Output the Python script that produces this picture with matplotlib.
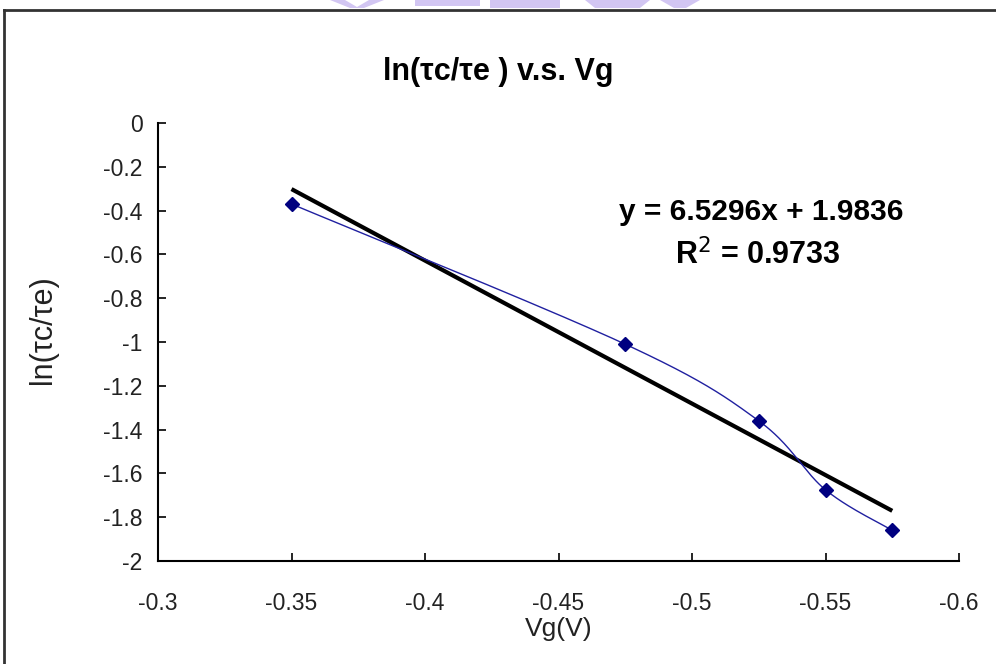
import numpy as np
import matplotlib
matplotlib.use("Agg")
import matplotlib.pyplot as plt
from matplotlib.patches import Polygon
from matplotlib.lines import Line2D

plt.rcParams['font.family'] = ['Liberation Sans', 'DejaVu Sans']

# Measured gate voltage and log ratio of the time constants
vg = [-0.35, -0.475, -0.525, -0.55, -0.575]
ln_ratio = [-0.37, -1.01, -1.36, -1.675, -1.86]

# Linear trendline coefficients
slope = 6.5296
intercept = 1.9836
r_squared = 0.9733

x_ticks = [-0.3, -0.35, -0.4, -0.45, -0.5, -0.55, -0.6]
x_tick_labels = ["-0.3", "-0.35", "-0.4", "-0.45", "-0.5", "-0.55", "-0.6"]
y_ticks = [0, -0.2, -0.4, -0.6, -0.8, -1, -1.2, -1.4, -1.6, -1.8, -2]
y_tick_labels = ["0", "-0.2", "-0.4", "-0.6", "-0.8", "-1", "-1.2", "-1.4", "-1.6", "-1.8", "-2"]


def smooth_curve(xs, ys, n=40):
    """Piecewise cubic Bezier through the points (Catmull-Rom style)."""
    pts = np.column_stack([xs, ys]).astype(float)
    out = []
    for i in range(len(pts) - 1):
        p0 = pts[i - 1] if i > 0 else pts[i]
        p1 = pts[i]
        p2 = pts[i + 1]
        p3 = pts[i + 2] if i + 2 < len(pts) else pts[i + 1]
        c1 = p1 + (p2 - p0) / 6.0
        c2 = p2 - (p3 - p1) / 6.0
        t = np.linspace(0, 1, n)[:, None]
        seg = ((1 - t) ** 3) * p1 + 3 * ((1 - t) ** 2) * t * c1 + 3 * (1 - t) * t ** 2 * c2 + t ** 3 * p2
        out.append(seg if i == 0 else seg[1:])
    curve = np.vstack(out)
    return curve[:, 0], curve[:, 1]


fig = plt.figure(figsize=(9.96, 6.64), dpi=100)
fig.patch.set_facecolor("white")

ax = fig.add_axes([158 / 996, 1 - 561 / 664, (959 - 158) / 996, (561 - 123) / 664])
ax.set_xlim(-0.3, -0.6)
ax.set_ylim(-2, 0)

# smoothed data line with diamond markers
sx, sy = smooth_curve(vg, ln_ratio)
ax.plot(sx, sy, color="#2020a0", lw=1.0, zorder=3)
ax.plot(vg, ln_ratio, linestyle="none", marker="D", markersize=7,
        color="#000080", zorder=4)

# linear trendline over the data range
tx = np.array([min(vg), max(vg)])
ax.plot(tx, slope * tx + intercept, color="black", lw=3.0, zorder=2,
        solid_capstyle="butt")

ax.set_xticks(x_ticks)
ax.set_xticklabels(x_tick_labels)
ax.set_yticks(y_ticks)
ax.set_yticklabels(y_tick_labels)
ax.tick_params(direction="in", length=6, width=1.2, labelsize=16.5,
               colors="black")
ax.tick_params(axis="y", pad=11)
ax.tick_params(axis="x", pad=22)
for lab in ax.get_xticklabels() + ax.get_yticklabels():
    lab.set_color("#222222")

for side in ("top", "right"):
    ax.spines[side].set_visible(False)
for side in ("left", "bottom"):
    ax.spines[side].set_linewidth(1.5)
    ax.spines[side].set_color("black")

ax.set_xlabel("Vg(V)", fontsize=19, color="#222222", labelpad=2)
ax.set_ylabel("ln(\u03c4c/\u03c4e)", fontsize=22, color="#222222")
ax.yaxis.set_label_coords((58 - 158) / 801, (561 - 330) / 438)

fig.text(498 / 996, 1 - 72 / 664, "ln(\u03c4c/\u03c4e ) v.s. Vg", ha="center", va="center",
         fontsize=22, fontweight="bold", color="black")
fig.text(761 / 996, 1 - 212 / 664, f"y = {slope:.4f}x + {intercept:.4f}", ha="center",
         va="center", fontsize=21.5, fontweight="bold", color="black")
fig.text(758 / 996, 1 - 255 / 664, f"R$^2$ = {r_squared:.4f}", ha="center",
         va="center", fontsize=22, fontweight="bold", color="black")

# chart frame
fig.add_artist(Line2D([4 / 996, 1], [1 - 10 / 664, 1 - 10 / 664], transform=fig.transFigure,
                      color="#333333", lw=2))
fig.add_artist(Line2D([4 / 996, 4 / 996], [0, 1 - 10 / 664], transform=fig.transFigure,
                      color="#333333", lw=2))

# faint logo strip above the frame
lav = "#d2c6f2"
shapes = [
    [(330, 0), (345, 0), (357, 7), (369, 0), (384, 0), (364, 8), (350, 8)],
    [(415, 0), (480, 0), (480, 6), (415, 6)],
    [(490, 0), (560, 0), (560, 8), (490, 8)],
    [(585, 0), (650, 0), (640, 8), (595, 8)],
    [(660, 0), (700, 0), (686, 8), (674, 8)],
]
for pts in shapes:
    fig.add_artist(Polygon([(x / 996, 1 - y / 664) for x, y in pts], closed=True,
                           transform=fig.transFigure, facecolor=lav, edgecolor="none"))

fig.savefig("out.png", dpi=100, facecolor="white")
